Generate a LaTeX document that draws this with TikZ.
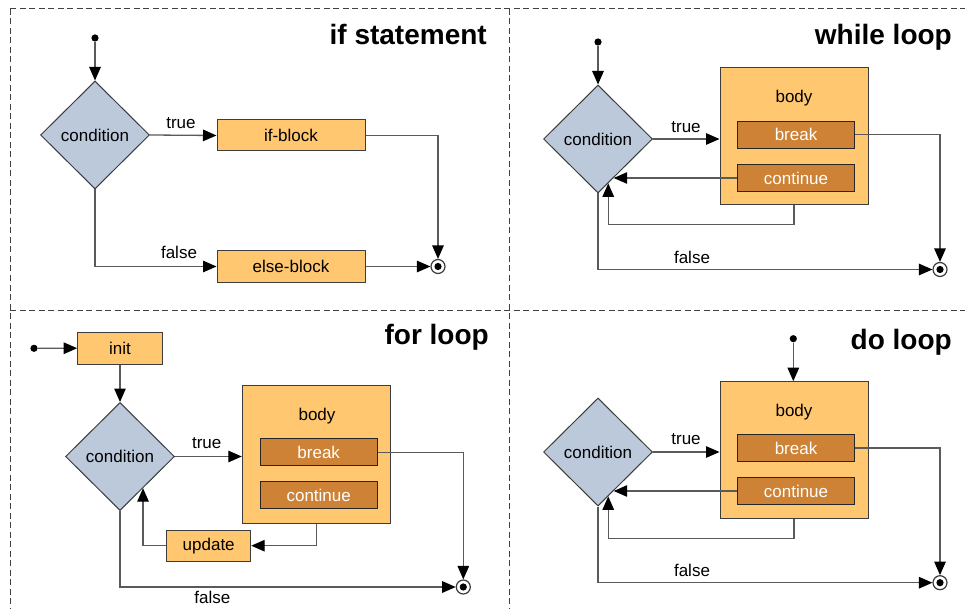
\documentclass[tikz,border=0pt]{standalone}
\usepackage{fontspec}
\setmainfont{Liberation Sans}
\usetikzlibrary{shapes.geometric,arrows.meta}
\definecolor{lorange}{HTML}{FFC76F}
\definecolor{dorange}{HTML}{CD8236}
\definecolor{dblue}{HTML}{BBC9DB}
\definecolor{linegray}{HTML}{5A5A5A}
\definecolor{bordergray}{HTML}{3C3C3C}
\tikzset{
  txt/.style={font=\fontsize{17}{19}\selectfont},
  title/.style={font=\fontsize{28}{30}\selectfont\bfseries, anchor=base east, inner sep=0},
  lbl/.style={font=\fontsize{17}{19}\selectfont, inner sep=0},
  decision/.style={diamond, draw=bordergray, line width=1pt, fill=dblue, minimum width=109pt, minimum height=108pt, inner sep=0, txt},
  lblock/.style={rectangle, draw=bordergray, line width=1pt, fill=lorange, inner sep=0, txt},
  dblock/.style={rectangle, draw=black!85, line width=1pt, fill=dorange, text=white, inner sep=0, minimum width=117pt, minimum height=27pt, txt},
  bodybox/.style={rectangle, draw=bordergray, line width=1pt, fill=lorange, inner sep=0, minimum width=148pt, minimum height=137pt},
  startdot/.style={circle, fill=black, minimum size=7.2pt, inner sep=0},
  enddot/.style={circle, draw=bordergray, line width=1.2pt, fill=white, minimum size=14pt, inner sep=0, path picture={\fill[black] (path picture bounding box.center) circle (3.6pt);}},
  conn/.style={draw=linegray, line width=1.3pt, -{Triangle[length=13.5pt,width=11.5pt,color=black]}},
  divider/.style={draw=black!75, line width=1pt, dash pattern=on 6pt off 3.5pt}
}
\begin{document}
\begin{tikzpicture}[x=1pt,y=-1pt]
\useasboundingbox (0,0) rectangle (965,609);
% dividers
\draw[divider] (10,9) -- (965,9);
\draw[divider] (10,9) -- (10,609);
\draw[divider] (509,9) -- (509,609);
\draw[divider] (10,310) -- (965,310);

% ===== if statement =====
\node[title] (t1) at (487,45) {if statement};
\node[startdot] (is) at (95,38) {};
\node[decision] (id) at (95,135) {condition};
\node[lblock, minimum width=148pt, minimum height=31pt] (ifb) at (291,135.5) {if-block};
\node[lblock, minimum width=148pt, minimum height=31pt] (ieb) at (291,266.5) {else-block};
\node[enddot] (ie) at (438,266.5) {};
\draw[conn] (is) -- (id.north);
\draw[conn] (id.east) -- (ifb.west);
\node[lbl] (itrue) at (181,123) {true};
\draw[conn] (id.south) |- (ieb.west);
\node[lbl] (ifalse) at (179,252) {false};
\draw[conn] (ifb.east) -| (ie.north);
\draw[conn] (ieb.east) -- (ie.west);

% ===== while loop =====
\node[title] (t2) at (952,45) {while loop};
\node[startdot] (ws) at (598,42) {};
\node[decision] (wd) at (598,139) {condition};
\node[bodybox] (wb) at (794,136.5) {};
\node[txt] (wbt) at (794,98) {body};
\node[dblock] (wbr) at (796,134.7) {break};
\node[dblock] (wc) at (796,178) {continue};
\node[enddot] (we) at (940,269.5) {};
\draw[conn] (ws) -- (wd.north);
\draw[conn] (wd.east) -- (wd.east -| wb.west);
\node[lbl] (wtrue) at (686,127) {true};
\draw[conn] (wc.west) -- (wc.west -| wd.-68.8);
\draw[conn] (wb.south) -- ++(0,19.3) -| (wd.-77.7);
\draw[conn] (wbr.east) -| (we.north);
\draw[conn] (wd.south) |- (we.west);
\node[lbl] (wfalse) at (692,257) {false};

% ===== for loop =====
\node[title] (t3) at (489,344.5) {for loop};
\node[startdot] (fs) at (34,348.3) {};
\node[lblock, minimum width=84.6pt, minimum height=31.7pt] (fi) at (120,348.2) {init};
\node[decision] (fd) at (120,456.5) {condition};
\node[bodybox, minimum height=137.7pt] (fb) at (316.3,454.2) {};
\node[txt] (fbt) at (317,416) {body};
\node[dblock] (fbr) at (318.7,452.2) {break};
\node[dblock] (fc) at (318.7,495.2) {continue};
\node[lblock, minimum width=84pt, minimum height=31.3pt] (fu) at (208.7,545.7) {update};
\node[enddot] (fe) at (463.3,587) {};
\draw[conn] (fs) -- (fi.west);
\draw[conn] (fi.south) -- (fd.north);
\draw[conn] (fd.east) -- (fd.east -| fb.west);
\node[lbl] (ftrue) at (206.7,443.3) {true};
\draw[conn] (fb.south) |- (fu.east);
\draw[conn] (fu.west) -| (fd.-54.2);
\draw[conn] (fbr.east) -| (fe.north);
\draw[conn] (fd.south) |- (fe.west);
\node[lbl] (ffalse) at (212.3,597.3) {false};

% ===== do loop =====
\node[title] (t4) at (952,349) {do loop};
\node[startdot] (ds) at (793.3,338.7) {};
\node[decision] (dd) at (598,452) {condition};
\node[bodybox, minimum height=136.6pt] (db) at (794,450) {};
\node[txt] (dbt) at (794,412.3) {body};
\node[dblock] (dbr) at (796,448) {break};
\node[dblock] (dc) at (796,491) {continue};
\node[enddot] (de) at (940,582.7) {};
\draw[conn] (ds) -- (ds |- db.north);
\draw[conn] (dd.east) -- (dd.east -| db.west);
\node[lbl] (dtrue) at (686,439.3) {true};
\draw[conn] (dc.west) -- (dc.west -| dd.-68.8);
\draw[conn] (db.south) -- ++(0,19.4) -| (dd.-77.7);
\draw[conn] (dbr.east) -| (de.north);
\draw[conn] (dd.south) |- (de.west);
\node[lbl] (dfalse) at (692,570.7) {false};
\end{tikzpicture}
\end{document}
